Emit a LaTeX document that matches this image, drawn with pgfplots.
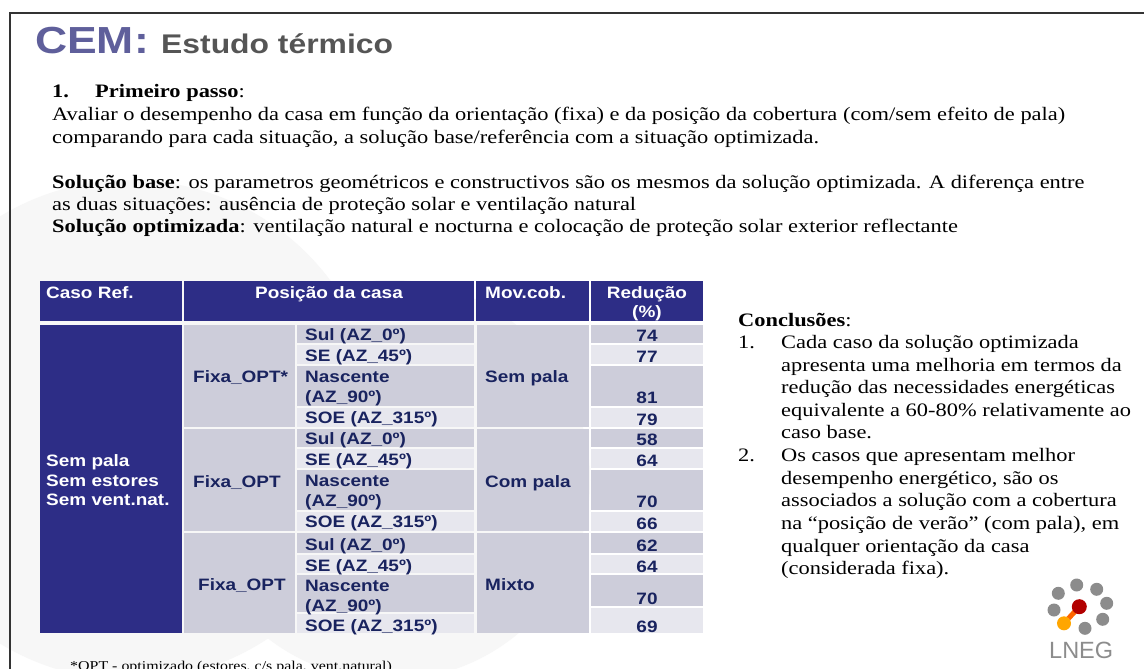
\documentclass[border=0pt]{standalone}
\usepackage{pgfplots}
\pgfplotsset{compat=1.18}
\usepackage{fontspec}
\setmainfont{Liberation Serif}[FakeStretch=1.18]
\newfontfamily\hel{Liberation Sans}[FakeStretch=1.15]
\newfontfamily\helt{Liberation Sans}[FakeStretch=1.18]
\newfontfamily\helns{Liberation Sans}
\definecolor{navy}{RGB}{45,45,134}
\definecolor{cdark}{RGB}{205,205,218}
\definecolor{clight}{RGB}{231,231,238}
\definecolor{ttext}{RGB}{25,35,95}
\definecolor{cemc}{RGB}{95,95,155}
\definecolor{estc}{RGB}{85,85,85}
\definecolor{wm}{RGB}{247,247,247}
\definecolor{logog}{RGB}{140,140,140}
\newcommand{\cell}[5]{\fill[#5] (axis cs:#1,#2) rectangle (axis cs:#3,#4);}
\newcommand{\bodyf}{\fontsize{19}{22}\selectfont}
\newcommand{\tabf}{\hel\bfseries\fontsize{16.5}{19}\selectfont}
\newcommand{\tl}[3]{\node[anchor=base west, inner sep=0pt, text=ttext, font=\tabf] at (axis cs:#1,#2) {#3};}
\newcommand{\bl}[3]{\node[anchor=base west, inner sep=0pt, font=\bodyf] at (axis cs:#1,#2) {#3};}
\newcommand{\logodot}[2]{\fill[logog] (axis cs:#1,#2) circle[radius=6.5pt];}
\pgfplotstableread{
x y v
647 341 74
647 362 77
647 403 81
647 425 79
647 445 58
647 466 64
647 507 70
647 529 66
647 551 62
647 572 64
647 604 70
647 632 69
}\reducao
\begin{document}
\begin{tikzpicture}
\begin{axis}[scale only axis, width=1144pt, height=669pt,
  xmin=0, xmax=1144, ymin=0, ymax=669, y dir=reverse,
  axis lines=none, clip=false]
% background
\fill[white] (axis cs:0,0) rectangle (axis cs:1144,669);
\fill[wm] (axis cs:130,430) circle[radius=250pt];
\fill[wm] (axis cs:390,480) circle[radius=200pt];
% frame
\draw[line width=2pt, black!80] (axis cs:10,669) -- (axis cs:10,13) -- (axis cs:1144,13);
% title
\node[anchor=base west, inner sep=0pt, text=cemc, font=\helt\bfseries\fontsize{37.7}{40}\selectfont] at (axis cs:35,54) {CEM:};
\node[anchor=base west, inner sep=0pt, text=estc, font=\helt\bfseries\fontsize{27}{30}\selectfont] at (axis cs:161,54) {Estudo térmico};
% intro text
\bl{52}{97}{\textbf{1.}}
\bl{95}{97}{\textbf{Primeiro passo}:}
\bl{52}{120.5}{Avaliar o desempenho da casa em função da orientação (fixa) e da posição da cobertura (com/sem efeito de pala)}
\bl{52}{143}{comparando para cada situação, a solução base/referência com a situação optimizada.}
\bl{52}{188}{\textbf{Solução base}: os parametros geométricos e constructivos são os mesmos da solução optimizada. A diferença entre}
\bl{52}{210}{as duas situações: ausência de proteção solar e ventilação natural}
\bl{52}{232}{\textbf{Solução optimizada}: ventilação natural e nocturna e colocação de proteção solar exterior reflectante}
% table header
\cell{40}{281}{182}{321}{navy}
\cell{184}{281}{474}{321}{navy}
\cell{476}{281}{589}{321}{navy}
\cell{591}{281}{703}{321}{navy}
\node[anchor=base west, inner sep=0pt, text=white, font=\tabf] at (axis cs:46,298) {Caso Ref.};
\node[anchor=base, inner sep=0pt, text=white, font=\tabf] at (axis cs:329,298) {Posição da casa};
\node[anchor=base west, inner sep=0pt, text=white, font=\tabf] at (axis cs:485,298) {Mov.cob.};
\node[anchor=base, inner sep=0pt, text=white, font=\tabf] at (axis cs:647,298) {Redução};
\node[anchor=base, inner sep=0pt, text=white, font=\tabf] at (axis cs:647,317) {(\%)};
% body column 1
\cell{40}{325}{182}{633}{navy}
\node[anchor=base west, inner sep=0pt, text=white, font=\tabf] at (axis cs:46,466) {Sem pala};
\node[anchor=base west, inner sep=0pt, text=white, font=\tabf] at (axis cs:46,486) {Sem estores};
\node[anchor=base west, inner sep=0pt, text=white, font=\tabf] at (axis cs:46,505) {Sem vent.nat.};
% column 2 and 4 groups
\cell{184}{325}{295}{427}{cdark}
\cell{184}{429}{295}{531}{cdark}
\cell{184}{533}{295}{633}{cdark}
\cell{477}{325}{589}{427}{cdark}
\cell{477}{429}{589}{531}{cdark}
\cell{477}{533}{589}{633}{cdark}
\tl{193}{382}{Fixa\_OPT*}
\tl{193}{487}{Fixa\_OPT}
\tl{198}{590}{Fixa\_OPT}
\tl{485}{382}{Sem pala}
\tl{485}{487}{Com pala}
\tl{485}{590}{Mixto}
% column 3 rows
\cell{297}{325}{474}{343}{cdark}
\cell{297}{345}{474}{364}{clight}
\cell{297}{366}{474}{406}{cdark}
\cell{297}{408}{474}{427}{clight}
\cell{297}{429}{474}{447}{cdark}
\cell{297}{449}{474}{468}{clight}
\cell{297}{470}{474}{510}{cdark}
\cell{297}{512}{474}{531}{clight}
\cell{297}{533}{474}{552.7}{cdark}
\cell{297}{554.7}{474}{573.3}{clight}
\cell{297}{575.3}{474}{611.7}{cdark}
\cell{297}{613.7}{474}{633}{clight}
% column 5 rows
\cell{591}{325}{703}{343}{cdark}
\cell{591}{345}{703}{364}{clight}
\cell{591}{366}{703}{406}{cdark}
\cell{591}{408}{703}{427}{clight}
\cell{591}{429}{703}{447}{cdark}
\cell{591}{449}{703}{468}{clight}
\cell{591}{470}{703}{510}{cdark}
\cell{591}{512}{703}{531}{clight}
\cell{591}{533}{703}{552.7}{cdark}
\cell{591}{554.7}{703}{573.3}{clight}
\cell{591}{575.3}{703}{606}{cdark}
\cell{591}{608}{703}{633}{clight}
% orientation labels
\tl{305}{340}{Sul (AZ\_0º)}
\tl{305}{361}{SE (AZ\_45º)}
\tl{305}{382}{Nascente}
\tl{305}{402}{(AZ\_90º)}
\tl{305}{423}{SOE (AZ\_315º)}
\tl{305}{444}{Sul (AZ\_0º)}
\tl{305}{465}{SE (AZ\_45º)}
\tl{305}{486}{Nascente}
\tl{305}{506}{(AZ\_90º)}
\tl{305}{527}{SOE (AZ\_315º)}
\tl{305}{550}{Sul (AZ\_0º)}
\tl{305}{571}{SE (AZ\_45º)}
\tl{305}{591}{Nascente}
\tl{305}{611}{(AZ\_90º)}
\tl{305}{631}{SOE (AZ\_315º)}
% values
\addplot[draw=none, mark=none, forget plot, nodes near coords, point meta=explicit symbolic,
  every node near coord/.append style={anchor=base, inner sep=0pt, text=ttext, font=\tabf}]
  table[x=x, y=y, meta=v] {\reducao};
% conclusions
\bl{738}{326}{\textbf{Conclusões}:}
\bl{738}{348}{1.}
\bl{738}{461}{2.}
\bl{781}{348}{Cada caso da solução optimizada}
\bl{781}{371}{apresenta uma melhoria em termos da}
\bl{781}{393}{redução das necessidades energéticas}
\bl{781}{416}{equivalente a 60-80\% relativamente ao}
\bl{781}{438}{caso base.}
\bl{781}{461}{Os casos que apresentam melhor}
\bl{781}{484}{desempenho energético, são os}
\bl{781}{506}{associados a solução com a cobertura}
\bl{781}{529}{na “posição de verão” (com pala), em}
\bl{781}{552}{qualquer orientação da casa}
\bl{781}{574}{(considerada fixa).}
% footnote
\node[anchor=base west, inner sep=0pt, font=\fontsize{13.5}{16}\selectfont] at (axis cs:70,670) {*OPT - optimizado (estores, c/s pala, vent.natural)};
% logo
\logodot{1076.7}{585}
\logodot{1096.7}{589.3}
\logodot{1106.7}{603.3}
\logodot{1102.7}{619.3}
\logodot{1085}{628.3}
\logodot{1058.3}{593.3}
\logodot{1054}{610}
\draw[line width=5pt, orange!80!red] (axis cs:1079.3,606.7) -- (axis cs:1064,623.3);
\fill[orange!70!yellow] (axis cs:1064,623.3) circle[radius=7pt];
\fill[red!70!black] (axis cs:1079.3,606.7) circle[radius=7.5pt];
\node[anchor=base west, inner sep=0pt, text=logog, font=\helns\fontsize{23.5}{26}\selectfont] at (axis cs:1049,658) {LNEG};
\end{axis}
\pgfresetboundingbox
\useasboundingbox (current axis.south west) rectangle (current axis.north east);
\end{tikzpicture}
\end{document}
